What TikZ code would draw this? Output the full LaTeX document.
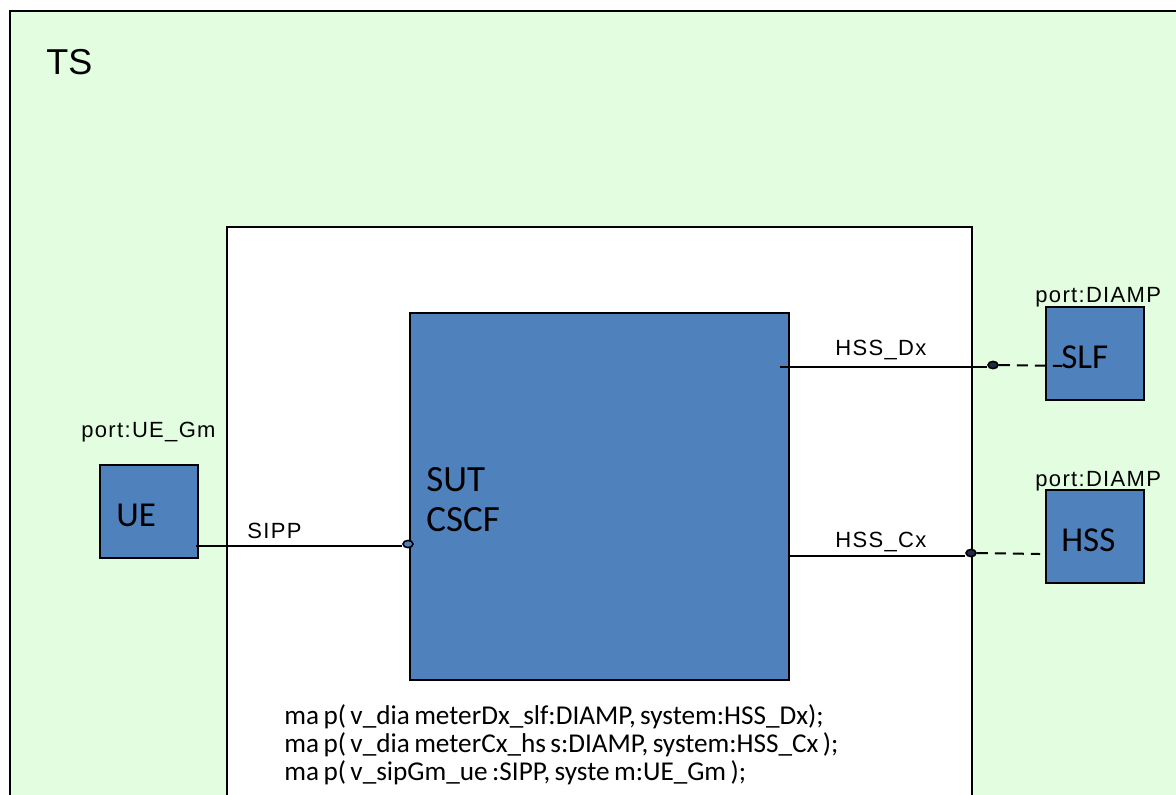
\documentclass[tikz,border=0pt]{standalone}
\usepackage{fontspec}
\usetikzlibrary{shapes.geometric}
\setmainfont{Liberation Sans}
\newfontfamily\calibrifont{Carlito}
\newfontfamily\widesans[LetterSpace=6]{Liberation Sans}
\definecolor{tsgreen}{HTML}{E2FDE0}
\definecolor{boxblue}{HTML}{4F81BD}
\definecolor{portdark}{HTML}{1F2A44}
\newcommand{\gp}{\hspace{2.2pt}}
\begin{document}
\begin{tikzpicture}[x=0.5pt,y=-0.5pt,
  blk/.style={draw=black,line width=1pt,fill=boxblue,inner sep=0pt},
  lbl/.style={inner sep=0pt,font=\widesans\fontsize{11}{12}\selectfont},
  big/.style={inner sep=0pt,anchor=west,font=\calibrifont\fontsize{17.5}{20}\selectfont},
  conn/.style={line width=1pt,draw=black},
  dashconn/.style={line width=1pt,draw=black,dash pattern=on 5.5pt off 3.5pt},
  portopen/.style={ellipse,draw=black,line width=0.8pt,fill=boxblue,minimum width=5pt,minimum height=3.6pt,inner sep=0pt},
  portfull/.style={ellipse,draw=black,line width=0.8pt,fill=portdark,minimum width=5pt,minimum height=3.6pt,inner sep=0pt}]
\useasboundingbox (0,0) rectangle (1176,794);
\clip (0,0) rectangle (1176,794);
\fill[white] (0,0) rectangle (1176,794);
% TS frame
\draw[line width=1pt,fill=tsgreen] (10,11) rectangle (1200,820);
\node[inner sep=0pt,anchor=west,font=\fontsize{18}{20}\selectfont] (ts) at (46,62) {TS};
% inner white box
\draw[line width=1pt,fill=white] (227,227) rectangle (972,820);
% SUT
\node[blk,minimum width=189.5pt,minimum height=183.5pt] (sut) at (599.5,496.5) {};
\node[big,align=left,font=\calibrifont\fontsize{18.5}{20}\selectfont] (sutlbl) at (426,500) {SUT\\CSCF};
% UE
\node[blk,minimum width=49pt,minimum height=46.5pt] (ue) at (149,511.5) {};
\node[big] (uelbl) at (116,515) {UE};
\node[lbl,anchor=west] (uep) at (81,432) {port:UE\_Gm};
% SLF
\node[blk,minimum width=49pt,minimum height=46.5pt] (slf) at (1095,353.5) {};
\node[big] (slflbl) at (1061,357) {SLF};
\node[lbl,anchor=west] (slfp) at (1035,297) {port:DIAMP};
% HSS
\node[blk,minimum width=49pt,minimum height=46.5pt] (hss) at (1095,536.5) {};
\node[big] (hsslbl) at (1061,540) {HSS};
\node[lbl,anchor=west] (hssp) at (1035,481) {port:DIAMP};
% ports
\node[portopen] (psipp) at (408,544) {};
\node[portfull] (pdx) at (993,365) {};
\node[portfull] (pcx) at (971,553) {};
\coordinate (ueout) at (196,546);
\coordinate (dxin) at (780,367);
\coordinate (cxin) at (789,556);
\coordinate (slfin) at (1062,366);
\coordinate (hssin) at (1040,554);
% connectors
\draw[conn] (ueout) -- (psipp.west |- ueout);
\draw[conn] (dxin) -- (dxin -| pdx.west);
\draw[dashconn] (pdx.east) -- (slfin);
\draw[conn] (cxin) -- (cxin -| pcx.west);
\draw[dashconn] (pcx.east) -- (hssin);
% connector labels
\node[lbl,anchor=west] (sipplbl) at (247,531) {SIPP};
\node[lbl,anchor=west] (dxlbl) at (835,350) {HSS\_Dx};
\node[lbl,anchor=west] (cxlbl) at (835,542) {HSS\_Cx};
% map text
\node[inner sep=0pt,anchor=north west,align=left,font=\calibrifont\fontsize{13.6}{14}\selectfont] (maptxt) at (284,704)
 {ma\gp p(\gp v\_dia\gp meterDx\_slf:DIAMP,\gp system:HSS\_Dx);\\
  ma\gp p(\gp v\_dia\gp meterCx\_hs\gp s:DIAMP,\gp system:HSS\_Cx\gp);\\
  ma\gp p(\gp v\_sipGm\_ue\gp:SIPP,\gp syste\gp m:UE\_Gm\gp);};
\end{tikzpicture}
\end{document}
